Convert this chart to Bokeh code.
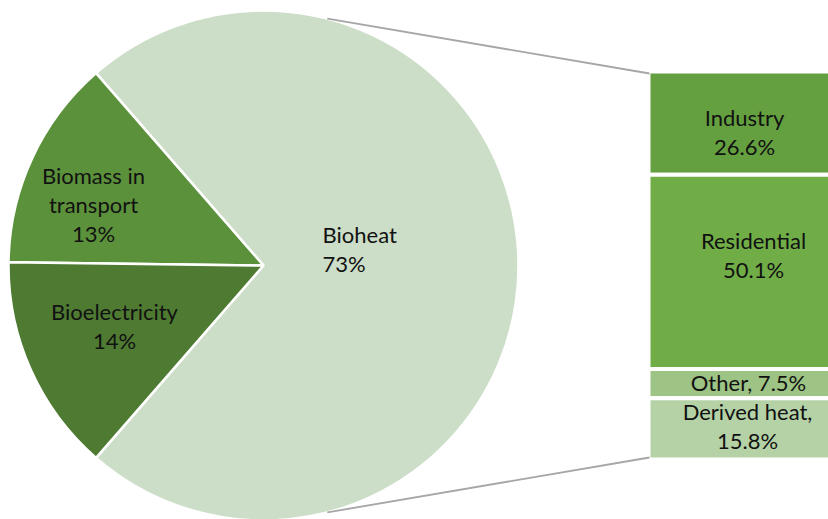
import math
from bokeh.plotting import figure
from bokeh.models import Range1d, ColumnDataSource
from bokeh.core.properties import value
from bokeh.embed import file_html
from bokeh.resources import INLINE

# ---------------- data ----------------
pie_labels = ["Bioheat", "Biomass in transport", "Bioelectricity"]
pie_values = [72.8, 13.4, 13.8]            # percent of total
pie_label_lines = [["Bioheat", "73%"], ["Biomass in", "transport", "13%"], ["Bioelectricity", "14%"]]

bar_labels = ["Industry", "Residential", "Other", "Derived heat"]
bar_values = [26.6, 50.1, 7.5, 15.8]       # percent of Bioheat
bar_label_lines = [["Industry", "26.6%"], ["Residential", "50.1%"], ["Other, 7.5%"], ["Derived heat,", "15.8%"]]

# ---------------- layout / style ----------------
W, H = 828, 519
CX, CY, R = 263, 254, 255                 # pie centre / radius (plot units = px)
BAR_X0, BAR_X1, BAR_TOP, BAR_BOTTOM = 648, 850, 448, 60
pie_colors = ["#CCDEC7", "#5C913B", "#4E7B31"]
bar_colors = ["#64A03F", "#70AD47", "#9DC385", "#B5D2A7"]
FONT = "Lato"
FSIZE = "22px"
LINE_GAP = 29
pie_label_anchor = [(322, 271, "left"), (93, 315, "center"), (114, 194, "center")]
bar_label_anchor = [(744, 388), (753, 265), (748, 137), (747, 94)]

p = figure(width=W, height=H, x_range=Range1d(0, W), y_range=Range1d(0, H),
           output_backend="svg", toolbar_location=None, min_border=0)
p.axis.visible = False
p.grid.visible = False
p.outline_line_color = None
p.background_fill_color = "white"
p.border_fill_color = "white"

# ---------------- pie ----------------
half = pie_values[0] / 100 * math.pi
starts, ends = [-half], [half]
a = half
for v in pie_values[1:]:
    starts.append(a)
    a += v / 100 * 2 * math.pi
    ends.append(a)
pie_src = ColumnDataSource(dict(start=starts, end=ends, color=pie_colors, label=pie_labels))
p.wedge(x=CX, y=CY, radius=R, start_angle="start", end_angle="end", fill_color="color",
        line_color="white", line_width=2.5, source=pie_src)

# ---------------- bar ----------------
total_h = BAR_TOP - BAR_BOTTOM
tops, bottoms = [], []
cum = 0.0
for v in bar_values:
    tops.append(BAR_TOP - cum / 100 * total_h)
    cum += v
    bottoms.append(BAR_TOP - cum / 100 * total_h)
bar_src = ColumnDataSource(dict(left=[BAR_X0] * len(bar_values), right=[BAR_X1] * len(bar_values),
                                top=tops, bottom=bottoms, color=bar_colors, label=bar_labels))
p.quad(left="left", right="right", top="top", bottom="bottom", fill_color="color",
       line_color="white", line_width=4, source=bar_src)

# ---------------- connector lines ----------------
ang = math.radians(75.5)
p.segment(x0=[CX + R * math.cos(ang), CX + R * math.cos(ang)],
          y0=[CY + R * math.sin(ang), CY - R * math.sin(ang)],
          x1=[BAR_X0 + 1, BAR_X0 + 1], y1=[BAR_TOP - 2, BAR_BOTTOM + 2],
          line_color="#A6A6A6", line_width=1.8)

# ---------------- labels ----------------
def draw_lines(lines, x, ycenter, align):
    n = len(lines)
    ys = [ycenter + (n - 1) / 2 * LINE_GAP - i * LINE_GAP for i in range(n)]
    p.text(x=[x] * n, y=ys, text=lines, text_align=align, text_baseline="middle",
           text_font=value(FONT), text_font_size=FSIZE, text_color="#111111")

for lines, (x, y, al) in zip(pie_label_lines, pie_label_anchor):
    draw_lines(lines, x, y, al)
for lines, (x, y) in zip(bar_label_lines, bar_label_anchor):
    draw_lines(lines, x, y, "center")

open("out.html", "w").write(file_html(p, INLINE))
